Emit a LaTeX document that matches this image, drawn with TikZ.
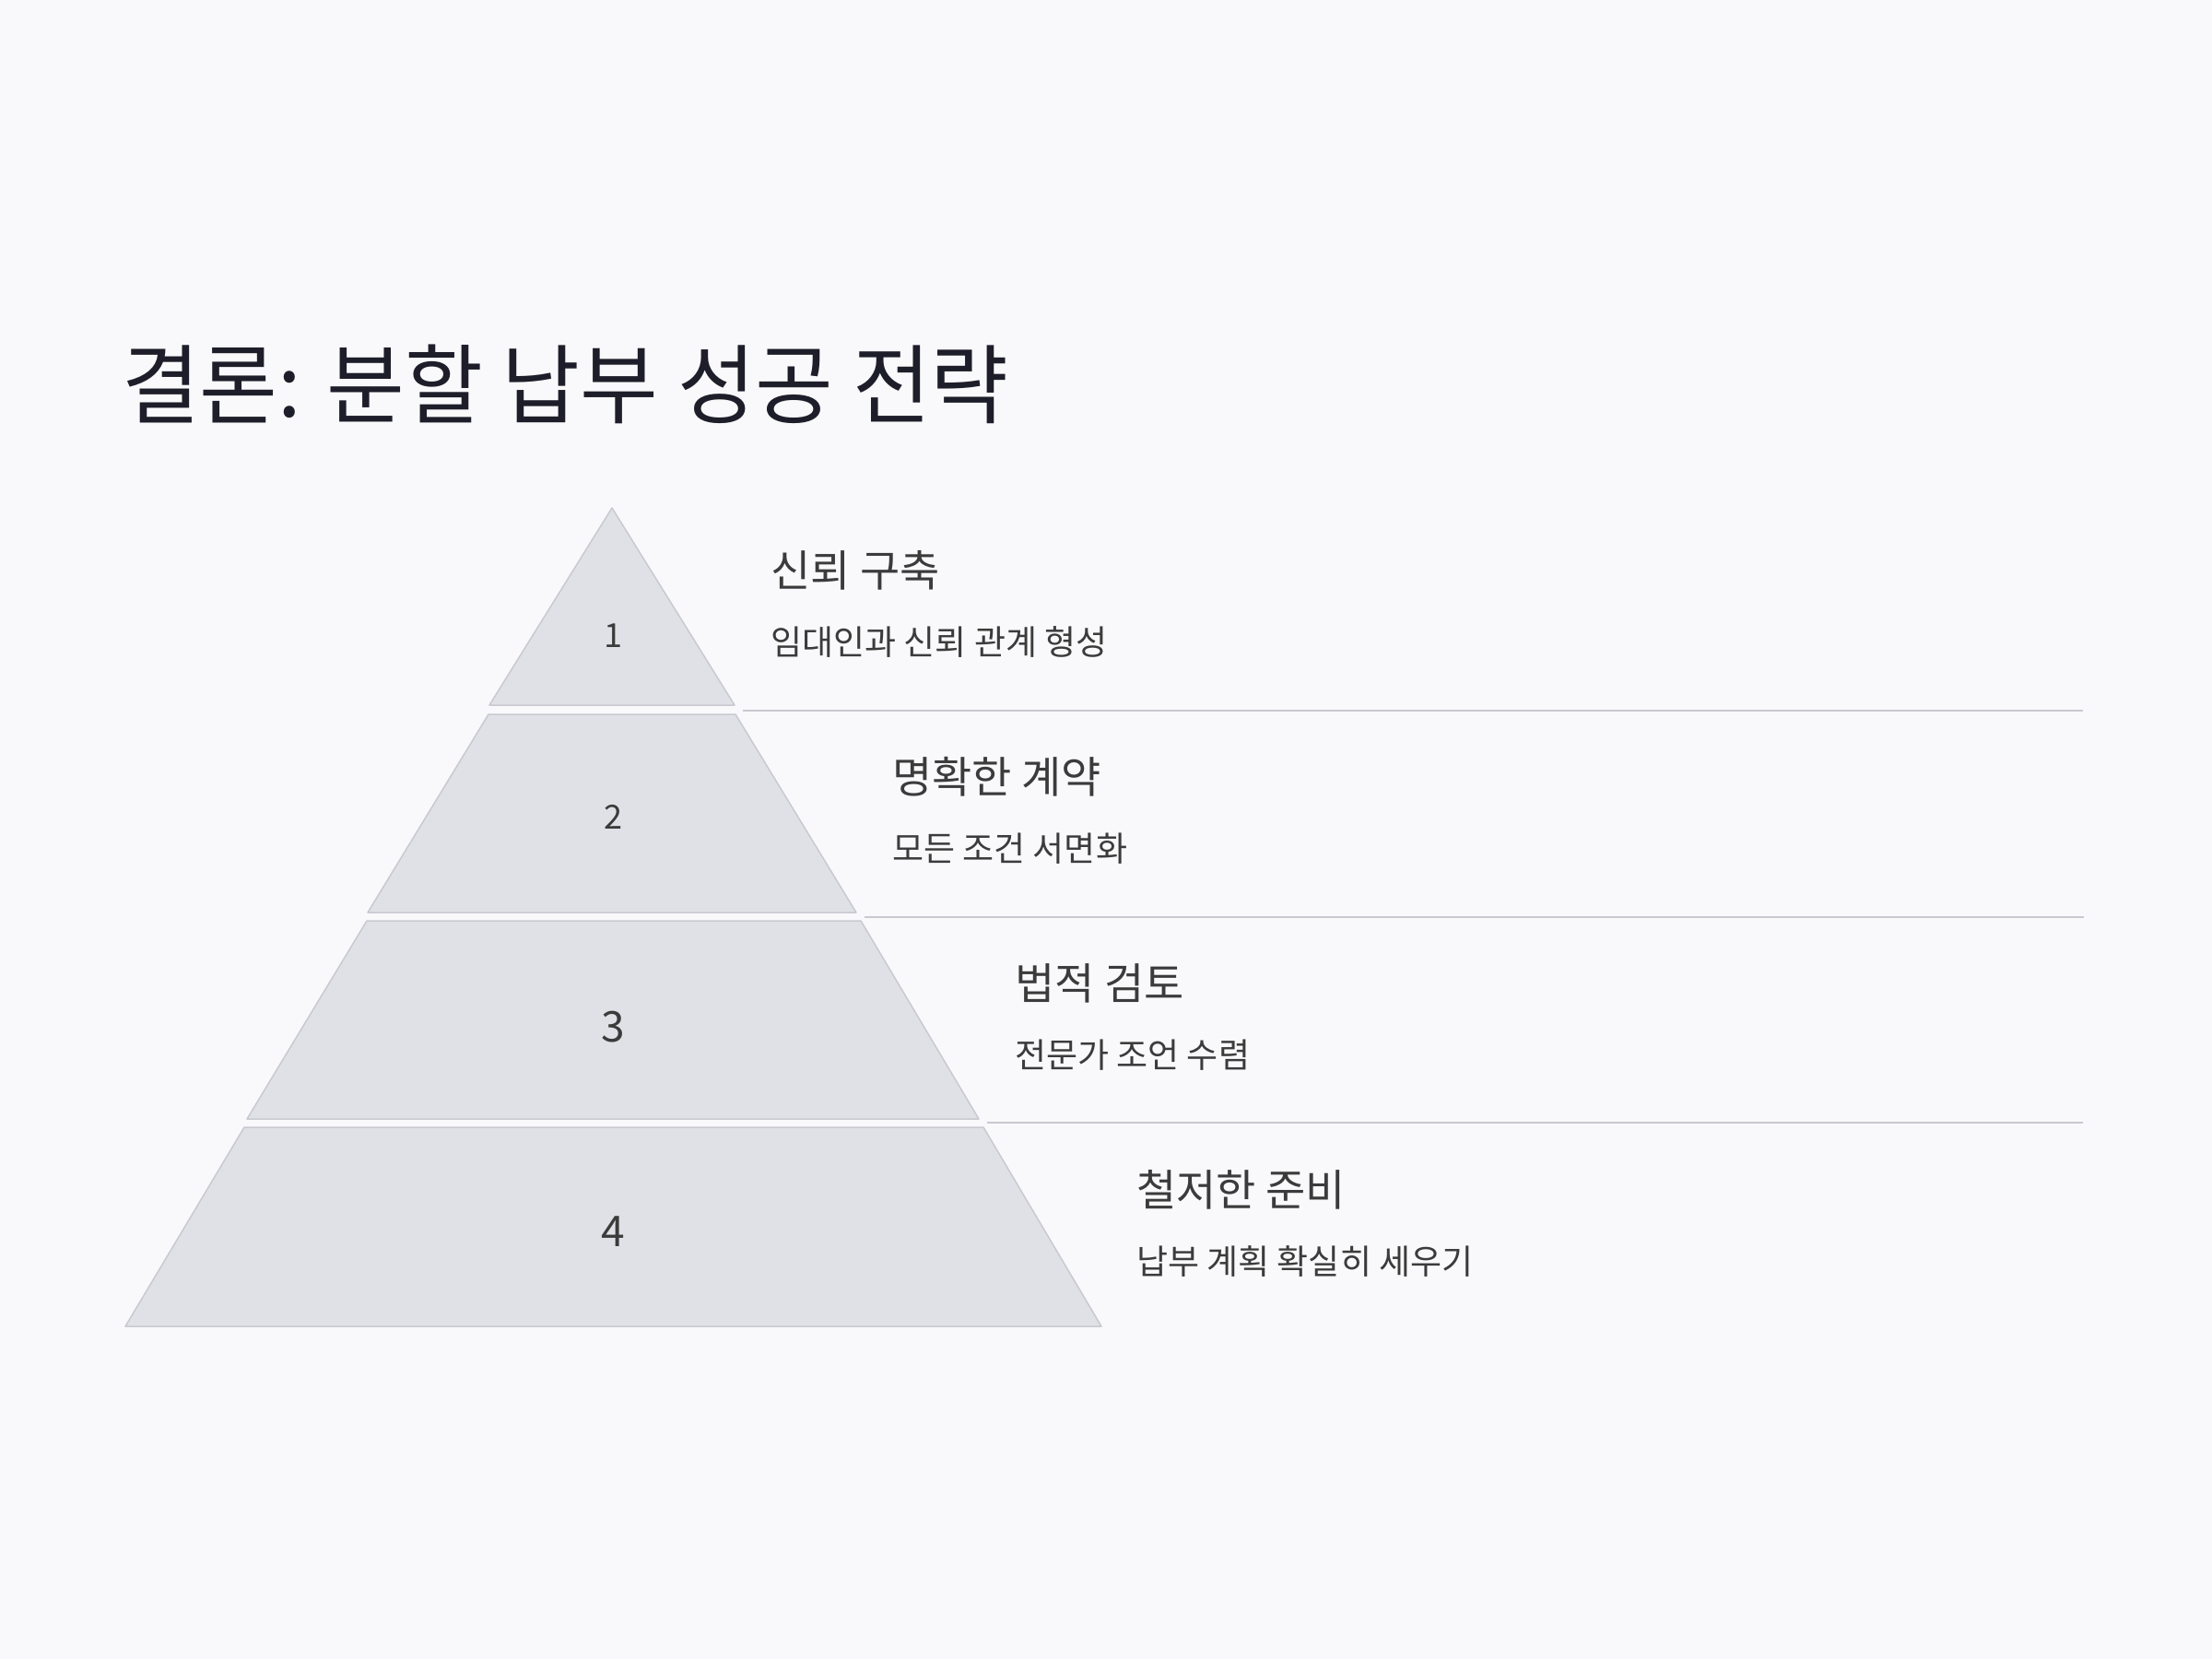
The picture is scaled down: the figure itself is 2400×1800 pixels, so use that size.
\documentclass[tikz,border=0pt]{standalone}
\usepackage{fontspec}
\setmainfont{Noto Sans CJK KR}
\newfontfamily\titlefont[FakeStretch=0.98]{Noto Sans CJK KR}
\newfontfamily\bodyfont{Noto Sans CJK KR}
\definecolor{bg}{HTML}{F9F9FB}
\definecolor{tierfill}{HTML}{E0E1E7}
\definecolor{tierdraw}{HTML}{C9C9D1}
\definecolor{sepcol}{HTML}{C9C9D1}
\definecolor{titlecol}{HTML}{1E1E2A}
\definecolor{txt}{HTML}{3B3B3B}
\begin{document}
\begin{tikzpicture}[x=1pt,y=-1pt,
  tier/.style={fill=tierfill, draw=tierdraw, line width=1.5pt, line join=round},
  sepline/.style={draw=sepcol, line width=2pt},
  head/.style={anchor=base west, inner sep=0pt, text=txt, font=\bodyfont\fontsize{47}{52}\selectfont},
  desc/.style={anchor=base west, inner sep=0pt, text=txt, font=\bodyfont\fontsize{37}{42}\selectfont},
  numsmall/.style={inner sep=0pt, text=txt, font=\fontsize{36}{40}\selectfont},
  numlarge/.style={inner sep=0pt, text=txt, font=\fontsize{46}{50}\selectfont}]
\useasboundingbox (0,0) rectangle (2400,1800);
\fill[bg] (0,0) rectangle (2400,1800);

% title
\node[anchor=base west, inner sep=0pt, text=titlecol, font=\titlefont\fontsize{94}{100}\selectfont] (title) at (132,452) {결론: 분할 납부 성공 전략};

% pyramid tiers
\draw[tier] (664,551) -- (797,765) -- (531,765) -- cycle;
\draw[tier] (530,775) -- (798,775) -- (929,990) -- (399,990) -- cycle;
\draw[tier] (398,999) -- (934,999) -- (1062,1214) -- (268,1214) -- cycle;
\draw[tier] (265,1223) -- (1067,1223) -- (1195,1439) -- (136,1439) -- cycle;

% numbers
\node[numsmall] (n1) at (665,690) {1};
\node[numsmall] (n2) at (665,886) {2};
\node[numlarge] (n3) at (665,1114) {3};
\node[numlarge] (n4) at (665,1336) {4};

% separator lines
\coordinate (s1a) at (806,771);
\coordinate (s1b) at (2260,771);
\coordinate (s2a) at (938,995);
\coordinate (s2b) at (2261,995);
\coordinate (s3a) at (1071,1218);
\coordinate (s3b) at (2260,1218);
\draw[sepline] (s1a) -- (s1b);
\draw[sepline] (s2a) -- (s2b);
\draw[sepline] (s3a) -- (s3b);

% labels
\node[head] (h1) at (836,636) {신뢰 구축};
\node[desc] (d1) at (836,710) {임대인과 신뢰 관계 형성};
\node[head] (h2) at (968,860) {명확한 계약};
\node[desc] (d2) at (968,934) {모든 조건 서면화};
\node[head] (h3) at (1101,1084) {법적 검토};
\node[desc] (d3) at (1101,1158) {전문가 조언 수렴};
\node[head] (h4) at (1233,1308) {철저한 준비};
\node[desc] (d4) at (1233,1382) {납부 계획 확실히 세우기};
\end{tikzpicture}
\end{document}
